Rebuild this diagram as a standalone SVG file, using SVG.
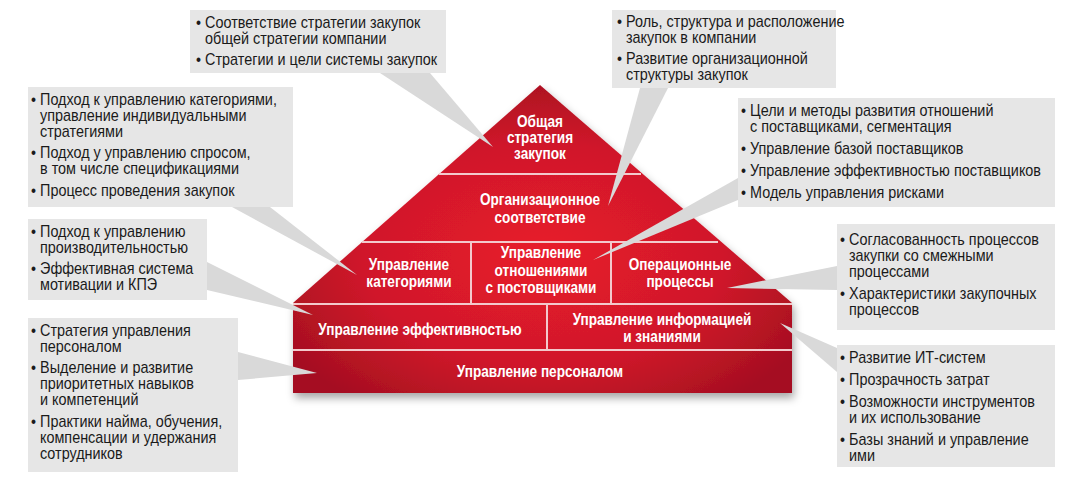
<svg xmlns="http://www.w3.org/2000/svg" width="1074" height="480" viewBox="0 0 1074 480">
<defs>
<radialGradient id="red" cx="0.5" cy="0.55" r="0.6">
<stop offset="0" stop-color="#e81c2a"/><stop offset="0.6" stop-color="#d0182a"/><stop offset="1" stop-color="#a50f20"/>
</radialGradient>
<filter id="sh" x="-10%" y="-10%" width="120%" height="130%"><feDropShadow dx="2" dy="5" stdDeviation="4" flood-color="#000" flood-opacity="0.35"/></filter>
</defs>
<style>
.box{fill:#e6e6e6}
.ptr{fill:#d9d9d9}
.t{font-family:"Liberation Sans",Arial,sans-serif;font-size:16px;fill:#1a1a1a}
.h{font-family:"Liberation Sans",Arial,sans-serif;font-size:16px;font-weight:bold;fill:#fff;text-anchor:middle}
.div{stroke:#f3c9cc;stroke-width:2;fill:none}
</style>
<g id="house">
<polygon points="540,85 293,303 293,393 792,393 792,303" fill="url(#red)" filter="url(#sh)"/>
<line class="div" x1="439" y1="174" x2="641" y2="174"/>
<line class="div" x1="362" y1="242" x2="718" y2="242"/>
<line class="div" x1="293" y1="304" x2="792" y2="304"/>
<line class="div" x1="293" y1="350" x2="792" y2="350"/>
<line class="div" x1="471" y1="242" x2="471" y2="304"/>
<line class="div" x1="611" y1="242" x2="611" y2="304"/>
<line class="div" x1="547" y1="304" x2="547" y2="350"/>
</g>
<g id="n-strategy" transform="translate(540,0) scale(0.85,1)"><text class="h"><tspan x="0" y="127">Общая</tspan><tspan x="0" y="143">стратегия</tspan><tspan x="0" y="159">закупок</tspan></text></g>
<g id="n-org" transform="translate(540,0) scale(0.85,1)"><text class="h"><tspan x="0" y="205">Организационное</tspan><tspan x="0" y="223">соответствие</tspan></text></g>
<g id="n-cat" transform="translate(409,0) scale(0.85,1)"><text class="h"><tspan x="0" y="270">Управление</tspan><tspan x="0" y="287">категориями</tspan></text></g>
<g id="n-rel" transform="translate(541,0) scale(0.85,1)"><text class="h"><tspan x="0" y="258">Управление</tspan><tspan x="0" y="276">отношениями</tspan><tspan x="0" y="293">с постовщиками</tspan></text></g>
<g id="n-ops" transform="translate(680,0) scale(0.85,1)"><text class="h"><tspan x="0" y="270">Операционные</tspan><tspan x="0" y="287">процессы</tspan></text></g>
<g id="n-eff" transform="translate(420,0) scale(0.85,1)"><text class="h"><tspan x="0" y="335">Управление эффективностью</tspan></text></g>
<g id="n-info" transform="translate(662,0) scale(0.85,1)"><text class="h"><tspan x="0" y="325">Управление информацией</tspan><tspan x="0" y="342">и знаниями</tspan></text></g>
<g id="n-pers" transform="translate(540,0) scale(0.85,1)"><text class="h"><tspan x="0" y="377">Управление персоналом</tspan></text></g>

<g id="connectors">
<polygon class="ptr" points="380,73 430,73 493,147"/>
<polygon class="ptr" points="640,88 668,88 608,206"/>
<polygon class="ptr" points="232,207 270,207 357,275"/>
<polygon class="ptr" points="738,178 738,200 593,260"/>
<polygon class="ptr" points="207,262 207,290 313,315"/>
<polygon class="ptr" points="837,266 837,290 727,288"/>
<polygon class="ptr" points="238,352 238,380 317,373"/>
<polygon class="ptr" points="837,348 837,372 780,323"/>
</g>

<g id="c-top"><rect class="box" x="190" y="10" width="256" height="63"/>
<g transform="translate(196,0) scale(0.9,1)"><text class="t"><tspan x="0" y="28">• Соответствие стратегии закупок</tspan><tspan x="10" y="44">общей стратегии компании</tspan><tspan x="0" y="65">• Стратегии и цели системы закупок</tspan></text></g></g>
<g id="c-topright"><rect class="box" x="612" y="10" width="224" height="78"/>
<g transform="translate(617,0) scale(0.9,1)"><text class="t"><tspan x="0" y="27">• Роль, структура и расположение</tspan><tspan x="10" y="43">закупок в компании</tspan><tspan x="0" y="64">• Развитие организационной</tspan><tspan x="10" y="80">структуры закупок</tspan></text></g></g>
<g id="c-left1"><rect class="box" x="28" y="87" width="265" height="120"/>
<g transform="translate(31,0) scale(0.9,1)"><text class="t"><tspan x="0" y="105">• Подход к управлению категориями,</tspan><tspan x="10" y="121">управление индивидуальными</tspan><tspan x="10" y="137">стратегиями</tspan><tspan x="0" y="158">• Подход у управлению спросом,</tspan><tspan x="10" y="174">в том числе спецификациями</tspan><tspan x="0" y="196">• Процесс проведения закупок</tspan></text></g></g>
<g id="c-supp"><rect class="box" x="738" y="98" width="317" height="109"/>
<g transform="translate(741,0) scale(0.9,1)"><text class="t"><tspan x="0" y="116">• Цели и методы развития отношений</tspan><tspan x="10" y="132">с поставщиками, сегментация</tspan><tspan x="0" y="154">• Управление базой поставщиков</tspan><tspan x="0" y="176">• Управление эффективностью поставщиков</tspan><tspan x="0" y="198">• Модель управления рисками</tspan></text></g></g>
<g id="c-left2"><rect class="box" x="28" y="219" width="179" height="81"/>
<g transform="translate(31,0) scale(0.9,1)"><text class="t"><tspan x="0" y="237">• Подход к управлению</tspan><tspan x="10" y="253">производительностью</tspan><tspan x="0" y="274">• Эффективная система</tspan><tspan x="10" y="290">мотивации и КПЭ</tspan></text></g></g>
<g id="c-ops"><rect class="box" x="837" y="224" width="218" height="106"/>
<g transform="translate(840,0) scale(0.9,1)"><text class="t"><tspan x="0" y="245">• Согласованность процессов</tspan><tspan x="10" y="261">закупки со смежными</tspan><tspan x="10" y="277">процессами</tspan><tspan x="0" y="299">• Характеристики закупочных</tspan><tspan x="10" y="315">процессов</tspan></text></g></g>
<g id="c-left3"><rect class="box" x="28" y="318" width="210" height="154"/>
<g transform="translate(31,0) scale(0.9,1)"><text class="t"><tspan x="0" y="336">• Стратегия управления</tspan><tspan x="10" y="352">персоналом</tspan><tspan x="0" y="373">• Выделение и развитие</tspan><tspan x="10" y="389">приоритетных навыков</tspan><tspan x="10" y="405">и компетенций</tspan><tspan x="0" y="427">• Практики найма, обучения,</tspan><tspan x="10" y="443">компенсации и удержания</tspan><tspan x="10" y="459">сотрудников</tspan></text></g></g>
<g id="c-info"><rect class="box" x="837" y="345" width="218" height="122"/>
<g transform="translate(840,0) scale(0.9,1)"><text class="t"><tspan x="0" y="363">• Развитие ИТ-систем</tspan><tspan x="0" y="385">• Прозрачность затрат</tspan><tspan x="0" y="407">• Возможности инструментов</tspan><tspan x="10" y="423">и их использование</tspan><tspan x="0" y="445">• Базы знаний и управление</tspan><tspan x="10" y="461">ими</tspan></text></g></g>
</svg>
